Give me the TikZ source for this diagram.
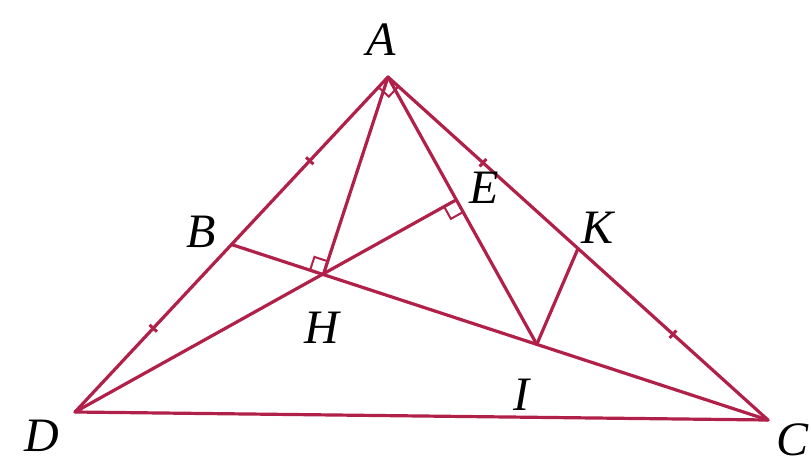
\documentclass[tikz,border=0pt]{standalone}
\usepackage{fontspec}
\setmainfont{Liberation Serif}
\usetikzlibrary{calc}
\definecolor{geo}{RGB}{176,32,72}
\begin{document}
\begin{tikzpicture}[x=1pt,y=-1pt,
  seg/.style={draw=geo,line width=3.2pt,line cap=round,line join=round},
  ra/.style={draw=geo,line width=2pt},
  tick/.style={draw=geo,line width=3pt},
  lab/.style={font=\fontsize{48}{56}\selectfont\itshape,text=black,inner sep=0pt}]
\useasboundingbox (0,0) rectangle (811,467);
\coordinate (A) at (388,77);
\coordinate (D) at (75,412);
\coordinate (C) at (768,420);
\coordinate (B) at ($(A)!0.5!(D)$);
\coordinate (K) at ($(A)!0.5!(C)$);
\coordinate (I) at ($(B)!0.569!(C)$);
\coordinate (H) at ($(B)!(A)!(C)$);
\coordinate (E) at ($(A)!(D)!(I)$);
% right angle marks
\draw[ra] ($(A)!14pt!(D)$) -- ($($(A)!14pt!(D)$)+($(A)!14pt!(C)$)-(A)$) -- ($(A)!14pt!(C)$);
\draw[ra] ($(H)!14pt!(A)$) -- ($($(H)!14pt!(A)$)+($(H)!14pt!(B)$)-(H)$) -- ($(H)!14pt!(B)$);
\draw[ra] ($(E)!14pt!(D)$) -- ($($(E)!14pt!(D)$)+($(E)!14pt!(I)$)-(E)$) -- ($(E)!14pt!(I)$);
% main segments
\draw[seg] (A) -- (D) -- (C) -- cycle;
\draw[seg] (B) -- (C);
\draw[seg] (A) -- (H);
\draw[seg] (D) -- (E);
\draw[seg] (A) -- (I);
\draw[seg] (K) -- (I);
% ticks
\foreach \p/\q in {A/B,B/D,A/K,K/C}{
  \coordinate (m) at ($(\p)!0.5!(\q)$);
  \draw[tick] ($(m)!5pt!90:(\q)$) -- ($(m)!5pt!-90:(\q)$);
}
% labels
\node[lab] (lA) at (381,40) {A};
\node[lab] (lB) at (201,232) {B};
\node[lab] (lE) at (484,188) {E};
\node[lab] (lK) at (598,228) {K};
\node[lab] (lH) at (322,328) {H};
\node[lab] (lI) at (521,395) {I};
\node[lab] (lD) at (42,436) {D};
\node[lab] (lC) at (792,440) {C};
\end{tikzpicture}
\end{document}
